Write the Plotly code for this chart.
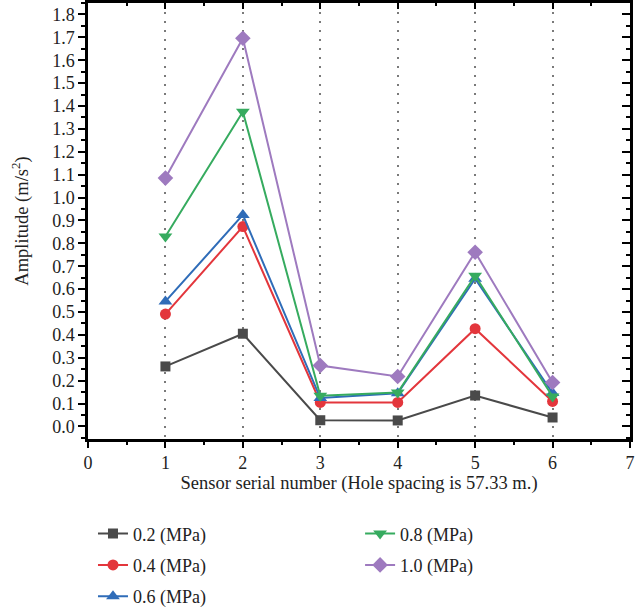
import plotly.graph_objects as go

# Sensor positions along the blasting line
sensors = [1, 2, 3, 4, 5, 6]

# Peak vibration amplitude (m/s^2) at each sensor for each pressure level
amp_02 = [0.262, 0.405, 0.027, 0.026, 0.135, 0.039]
amp_04 = [0.491, 0.873, 0.105, 0.105, 0.427, 0.109]
amp_06 = [0.546, 0.924, 0.124, 0.145, 0.645, 0.146]
amp_08 = [0.830, 1.375, 0.134, 0.148, 0.658, 0.131]
amp_10 = [1.085, 1.696, 0.266, 0.218, 0.761, 0.192]

series = [
    ("0.2 (MPa)", amp_02, "#4a4a4a", "square", 10, "legend"),
    ("0.4 (MPa)", amp_04, "#e3363c", "circle", 11, "legend"),
    ("0.6 (MPa)", amp_06, "#2f6cb8", "triangle-up", 12, "legend"),
    ("0.8 (MPa)", amp_08, "#36ab5f", "triangle-down", 12, "legend2"),
    ("1.0 (MPa)", amp_10, "#9e7abf", "diamond", 12, "legend2"),
]

FONT = "Liberation Serif"

fig = go.Figure()
for name, vals, color, sym, size, leg in series:
    fig.add_trace(go.Scatter(
        x=sensors, y=vals, name=name, mode="lines+markers",
        line=dict(color=color, width=2),
        marker=dict(symbol=sym, size=size, color=color),
        legend=leg, legendgroup=name,
    ))

# invisible trace so the mirrored top/right axes get drawn
fig.add_trace(go.Scatter(x=[None], y=[None], xaxis="x2", yaxis="y2",
                         showlegend=False, hoverinfo="skip"))

tick_font = dict(family=FONT, size=18, color="#222")
title_font = dict(family=FONT, size=18.5, color="#222")
legend_font = dict(family=FONT, size=18, color="#222")

fig.update_layout(
    width=641, height=607,
    margin=dict(l=88, r=11, t=3, b=168, autoexpand=False),
    paper_bgcolor="white", plot_bgcolor="white",
    font=dict(family=FONT, size=18, color="#222"),
    xaxis=dict(
        range=[0, 7], dtick=1, tick0=0,
        showline=True, linecolor="black", linewidth=2.5,
        ticks="outside", ticklen=6, tickwidth=2, tickcolor="black",
        minor=dict(ticks="outside", ticklen=3, tickwidth=2, dtick=0.5,
                   tick0=0, tickcolor="black", showgrid=False),
        showgrid=True, gridcolor="#7a7a7a", gridwidth=1.5,
        griddash="2px,7px",
        zeroline=False, tickfont=tick_font,
        title=dict(text="Sensor serial number (Hole spacing is 57.33 m.)",
                   font=title_font, standoff=4),
    ),
    yaxis=dict(
        range=[-0.055, 1.85], dtick=0.1, tick0=0, tickformat=".1f",
        showline=True, linecolor="black", linewidth=2.5,
        ticks="outside", ticklen=7, tickwidth=2, tickcolor="black",
        minor=dict(ticks="outside", ticklen=4, tickwidth=2, dtick=0.05,
                   tick0=0, tickcolor="black", showgrid=False),
        showgrid=False, zeroline=False, tickfont=tick_font,
        title=dict(text="Amplitude (m/s<sup>2</sup>)", font=title_font,
                   standoff=19),
    ),
    xaxis2=dict(
        overlaying="x", side="top", range=[0, 7], dtick=1, tick0=0,
        showline=True, linecolor="black", linewidth=2.5,
        ticks="inside", ticklen=6, tickwidth=2, tickcolor="black",
        minor=dict(ticks="inside", ticklen=3, tickwidth=2, dtick=0.5,
                   tick0=0, tickcolor="black"),
        showticklabels=False, showgrid=False, zeroline=False,
    ),
    yaxis2=dict(
        overlaying="y", side="right", range=[-0.055, 1.85], dtick=0.1,
        tick0=0, showline=True, linecolor="black", linewidth=2.5,
        ticks="inside", ticklen=8, tickwidth=2, tickcolor="black",
        minor=dict(ticks="inside", ticklen=4, tickwidth=2, dtick=0.05,
                   tick0=0, tickcolor="black"),
        showticklabels=False, showgrid=False, zeroline=False,
    ),
    legend=dict(
        x=0.0092, y=-0.175, xanchor="left", yanchor="top",
        orientation="v", tracegroupgap=5, bgcolor="rgba(0,0,0,0)",
        font=legend_font,
    ),
    legend2=dict(
        x=0.502, y=-0.175, xanchor="left", yanchor="top",
        orientation="v", tracegroupgap=5, bgcolor="rgba(0,0,0,0)",
        font=legend_font,
    ),
    showlegend=True,
)

fig.write_html("out.html")
